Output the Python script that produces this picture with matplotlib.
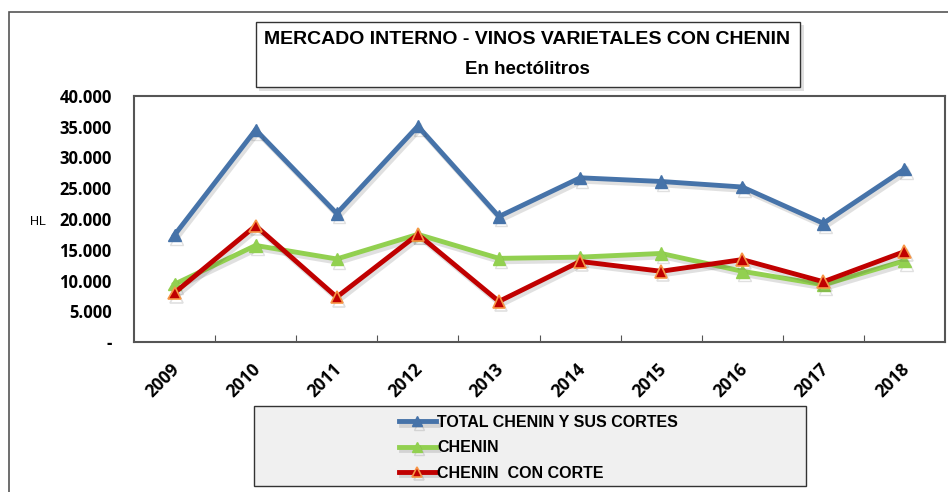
import matplotlib.pyplot as plt
import matplotlib.patheffects as pe
from matplotlib.patches import Rectangle

years = ["2009", "2010", "2011", "2012", "2013", "2014", "2015", "2016", "2017", "2018"]
total = [17400, 34500, 20900, 35100, 20400, 26700, 26100, 25200, 19300, 28100]
chenin = [9400, 15700, 13500, 17500, 13600, 13800, 14400, 11500, 9300, 13200]
con_corte = [8000, 18900, 7300, 17500, 6600, 13100, 11500, 13400, 9800, 14700]

series_names = ["TOTAL CHENIN Y SUS CORTES", "CHENIN", "CHENIN  CON CORTE"]
y_ticks = [0, 5000, 10000, 15000, 20000, 25000, 30000, 35000, 40000]
y_labels = ["-", "5.000", "10.000", "15.000", "20.000", "25.000", "30.000", "35.000", "40.000"]

narrow = ["Liberation Sans Narrow", "Liberation Sans", "DejaVu Sans"]

fig = plt.figure(figsize=(9.48, 4.92), dpi=100)
W, H = 948, 492

def fx(px):
    return px / W

def fy(py):
    return 1 - py / H

def box(x0, y0, x1, y1, **kw):
    # pixel box, top-left origin
    r = Rectangle((fx(x0), fy(y1)), fx(x1) - fx(x0), fy(y0) - fy(y1), transform=fig.transFigure, **kw)
    fig.patches.append(r)
    return r

# outer frame
box(9, 12, 1100, 700, fill=False, edgecolor="#555555", lw=1.2)

ax = fig.add_axes([fx(134), fy(342), fx(945) - fx(134), fy(96) - fy(342)])

shadow = [pe.SimpleLineShadow(offset=(1.5, -2.5), alpha=0.15, shadow_color="#333333"), pe.Normal()]
x = list(range(len(years)))
ax.plot(x, total, color="#4673a9", lw=3.5, marker="^", ms=9, mfc="#4673a9", mec="#4673a9",
        path_effects=shadow, label=series_names[0], zorder=3)
ax.plot(x, chenin, color="#92d050", lw=3.5, marker="^", ms=9, mfc="#92d050", mec="#92d050",
        path_effects=shadow, label=series_names[1], zorder=4)
ax.plot(x, con_corte, color="#c00000", lw=3.5, marker="^", ms=9, mfc="#c00000", mec="#f79646", mew=1.2,
        path_effects=shadow, label=series_names[2], zorder=5)

ax.set_xlim(-0.5, len(years) - 0.5)
ax.set_ylim(0, 40000)
ax.set_yticks(y_ticks)
ax.set_yticklabels(y_labels, fontsize=12, fontweight="bold", family="Open Sans")
ax.set_xticks([i + 0.5 for i in range(len(years) - 1)])
ax.set_xticklabels([])
ax.tick_params(axis="x", direction="in", length=5, color="#555555")
ax.tick_params(axis="y", length=0, pad=16)

for i, yr in enumerate(years):
    ax.text(i - 0.05, -3000, yr, rotation=45, ha="right", va="top", rotation_mode="anchor",
            fontsize=12.5, fontweight="bold", family="Open Sans", clip_on=False)

for s in ax.spines.values():
    s.set_color("#555555")
    s.set_linewidth(1.5)

fig.text(fx(38), fy(222), "HL", fontsize=9, ha="center", va="center", family=narrow)

# title box
box(259, 25, 804, 91, facecolor="#cccccc", edgecolor="none", alpha=0.6, zorder=1)
box(256, 22, 800, 87, facecolor="white", edgecolor="#333333", lw=1, zorder=2)
fig.text(fx(527), fy(40), "MERCADO INTERNO - VINOS VARIETALES CON CHENIN", ha="center", va="center",
         fontsize=14, fontweight="bold", family=narrow, zorder=3)
fig.text(fx(527), fy(69), "En hectólitros", ha="center", va="center",
         fontsize=13.5, fontweight="bold", family=narrow, zorder=3)

# legend box
box(254, 406, 806, 486, facecolor="#f0f0f0", edgecolor="#333333", lw=1, zorder=1)
leg = fig.legend(loc="upper left", bbox_to_anchor=(fx(386), fy(402)), frameon=False, markerscale=0.8,
                 handlelength=2.3, handletextpad=0.1, borderpad=0.3, labelspacing=0.65,
                 prop={"family": narrow, "weight": "bold", "size": 11.5})

fig.savefig("out.png", dpi=100)
